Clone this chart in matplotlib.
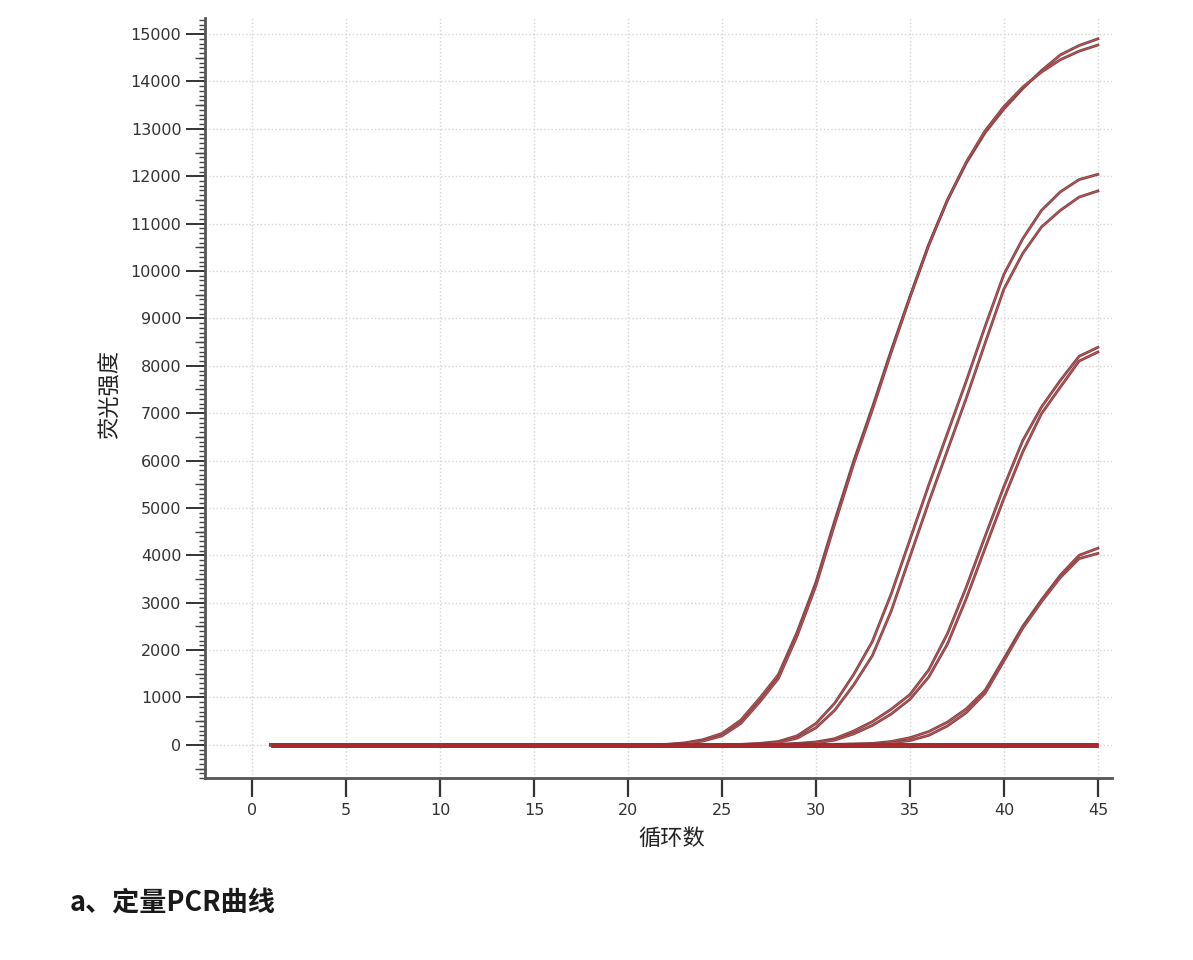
import matplotlib
matplotlib.use("Agg")
import matplotlib.pyplot as plt
import matplotlib.patheffects as pe
from matplotlib.ticker import MultipleLocator
import numpy as np

plt.rcParams['font.family'] = ['DejaVu Sans', 'Noto Sans CJK SC']

# ---------------- 数据 (循环数 1..45) ----------------
cycles = list(range(1, 46))

# 样本 A (两个复孔)
a1 = [0] * 21 + [10, 40, 110, 240, 520, 980, 1480, 2380, 3430, 4730, 5980, 7120, 8320,
                 9460, 10560, 11500, 12280, 12920, 13420, 13850, 14230, 14560, 14760, 14900]
a2 = [0] * 21 + [5, 25, 80, 190, 450, 900, 1400, 2300, 3360, 4660, 5920, 7070, 8280,
                 9440, 10540, 11500, 12300, 12960, 13470, 13880, 14200, 14460, 14640, 14770]
# 样本 B
b1 = [0] * 25 + [10, 30, 70, 190, 450, 880, 1480, 2180, 3180, 4330, 5480, 6580, 7680,
                 8830, 9930, 10680, 11280, 11670, 11930, 12040]
b2 = [0] * 25 + [5, 20, 50, 140, 360, 730, 1260, 1880, 2820, 3970, 5120, 6220, 7320,
                 8480, 9620, 10370, 10930, 11280, 11560, 11690]
# 样本 C
c1 = [0] * 27 + [10, 30, 60, 130, 290, 490, 750, 1060, 1580, 2350, 3330, 4400, 5450,
                 6420, 7130, 7690, 8200, 8390]
c2 = [0] * 27 + [5, 20, 40, 100, 230, 410, 650, 960, 1430, 2130, 3090, 4150, 5200,
                 6180, 6990, 7550, 8100, 8290]
# 样本 D
d1 = [0] * 30 + [10, 20, 30, 70, 150, 280, 480, 760, 1150, 1820, 2500, 3060, 3580,
                 4000, 4150]
d2 = [0] * 30 + [5, 10, 15, 40, 90, 200, 400, 680, 1090, 1770, 2460, 3020, 3530,
                 3930, 4040]
# 阴性对照
neg = [0] * 45

samples = [a1, a2, b1, b2, c1, c2, d1, d2]

# ---------------- 画图 ----------------
fig = plt.figure(figsize=(11.93, 9.6), dpi=100)
ax = fig.add_axes([205 / 1193, 1 - 778 / 960, (1112 - 205) / 1193, (778 - 18) / 960])

# 样本曲线 (双线效果)
for s in samples:
    ax.plot(cycles, s, color='#d2545c', lw=0.6, zorder=4,
            path_effects=[pe.Stroke(linewidth=2.0, foreground='#7d4444'), pe.Normal()])

# 阴性对照粗线 (在最上层)
for k in range(3):
    ax.plot(cycles, neg, color='#a8292e', lw=3.4, solid_capstyle='butt', zorder=5)

ax.set_xlim(-2.5, 45.75)
ax.set_ylim(-700, 15340)

# 坐标轴
for side in ['top', 'right']:
    ax.spines[side].set_visible(False)
for side in ['left', 'bottom']:
    ax.spines[side].set_color('#555555')
    ax.spines[side].set_linewidth(2.0)

ax.set_xticks(range(0, 46, 5))
ax.set_yticks(range(0, 15001, 1000))
ax.yaxis.set_minor_locator(MultipleLocator(100))
ax.tick_params(axis='x', length=14, width=1.6, color='#333333', pad=4,
               labelsize=11.5, labelcolor='#333333')
ax.tick_params(axis='y', which='major', length=14, width=1.4, color='#333333', pad=3,
               labelsize=11.5, labelcolor='#333333')
ax.tick_params(axis='y', which='minor', length=4.5, width=1.0, color='#444444')

# 500 位置的中等刻度
sec = ax.secondary_yaxis('left')
sec.set_yticks(range(-500, 15001, 1000))
sec.set_yticklabels([])
sec.tick_params(length=7.5, width=1.0, color='#444444')
sec.spines['left'].set_visible(False)

ax.grid(True, which='major', color='#d4d4d4', linestyle=':', linewidth=1.0)
ax.set_axisbelow(True)

fig.text(110 / 1193, 1 - 395 / 960, '荧光强度', rotation=90, ha='center', va='center',
         fontsize=16, color='#222222', family=['Noto Sans CJK SC', 'DejaVu Sans'])
fig.text(672 / 1193, 1 - 838 / 960, '循环数', ha='center', va='center',
         fontsize=16, color='#222222', family=['Noto Sans CJK SC', 'DejaVu Sans'])
fig.text(70 / 1193, 1 - 903 / 960, 'a、定量PCR曲线', ha='left', va='center',
         fontsize=19.5, fontweight='bold', color='#1a1a1a',
         family=['Noto Sans CJK SC', 'DejaVu Sans'])

fig.savefig('out.png', dpi=100)
